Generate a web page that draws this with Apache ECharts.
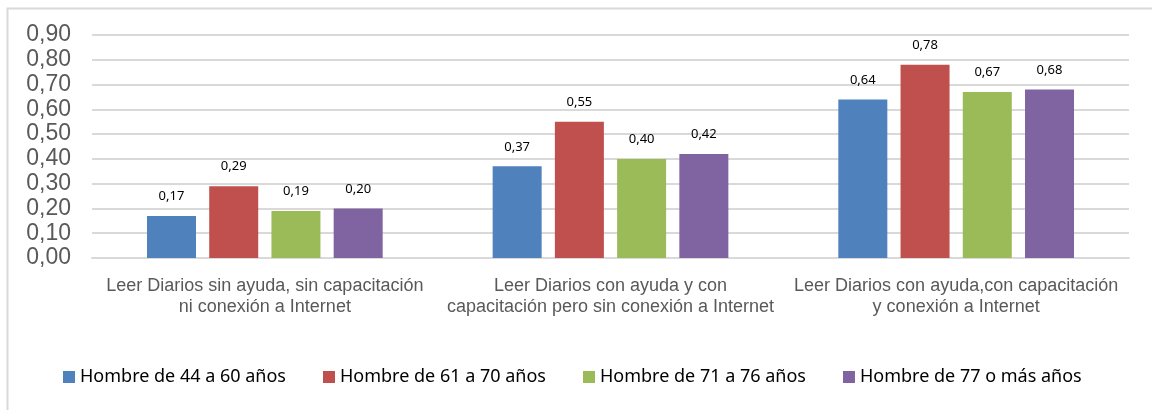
<!DOCTYPE html>
<html>
<head>
<meta charset="utf-8">
<script src="https://cdn.jsdelivr.net/npm/echarts@6/dist/echarts.min.js"></script>
<style>
  html, body { margin: 0; padding: 0; background: #fff; }
  #chart { width: 1152px; height: 410px; }
</style>
</head>
<body>
<div id="chart"></div>
<script>
const categories = [
  'Leer Diarios sin ayuda, sin capacitación\nni conexión a Internet',
  'Leer Diarios con ayuda y con\ncapacitación pero sin conexión a Internet',
  'Leer Diarios con ayuda,con capacitación\ny conexión a Internet'
];
const seriesNames = [
  'Hombre de 44 a 60 años',
  'Hombre de 61 a 70 años',
  'Hombre de 71 a 76 años',
  'Hombre de 77 o más años'
];
const men44to60 = [0.17, 0.37, 0.64];
const men61to70 = [0.29, 0.55, 0.78];
const men71to76 = [0.19, 0.40, 0.67];
const men77plus = [0.20, 0.42, 0.68];
const colors = ['#4f81bd', '#c0504d', '#9bbb59', '#8064a2'];

const fmt = v => v.toFixed(2).replace('.', ',');

const chart = echarts.init(document.getElementById('chart'));

const makeSeries = (name, values, color) => ({
  name: name,
  type: 'bar',
  data: values,
  barWidth: 49,
  barGap: '27%',
  itemStyle: { color: color },
  label: {
    show: true,
    position: 'top',
    distance: 13,
    fontFamily: 'Noto Sans',
    fontSize: 13,
    color: '#000',
    formatter: p => fmt(p.value)
  }
});

chart.setOption({
  animation: false,
  graphic: [{
    type: 'rect',
    shape: { x: 7.5, y: 8.5, width: 1200, height: 500 },
    style: { fill: 'none', stroke: '#d9d9d9', lineWidth: 2 },
    silent: true
  }],
  grid: { left: 92, right: 23, top: 35, bottom: 152 },
  legend: {
    data: seriesNames,
    left: 58,
    top: 363,
    icon: 'rect',
    itemWidth: 12,
    itemHeight: 12,
    itemGap: 37,
    textStyle: { fontFamily: 'Noto Sans', fontSize: 18, color: '#000' }
  },
  xAxis: {
    type: 'category',
    data: categories,
    axisTick: { show: false },
    axisLine: { lineStyle: { color: '#d9d9d9', width: 2 } },
    axisLabel: {
      fontFamily: 'Liberation Sans',
      fontSize: 18,
      color: '#595959',
      lineHeight: 21,
      margin: 18,
      interval: 0
    }
  },
  yAxis: {
    type: 'value',
    min: 0,
    max: 0.9,
    interval: 0.1,
    axisLine: { show: false },
    axisTick: { show: false },
    splitLine: { lineStyle: { color: '#d9d9d9', width: 2 } },
    axisLabel: {
      fontFamily: 'Liberation Sans',
      fontSize: 23,
      color: '#595959',
      margin: 21,
      formatter: v => fmt(v)
    }
  },
  series: [
    makeSeries(seriesNames[0], men44to60, colors[0]),
    makeSeries(seriesNames[1], men61to70, colors[1]),
    makeSeries(seriesNames[2], men71to76, colors[2]),
    makeSeries(seriesNames[3], men77plus, colors[3])
  ]
});
</script>
</body>
</html>
